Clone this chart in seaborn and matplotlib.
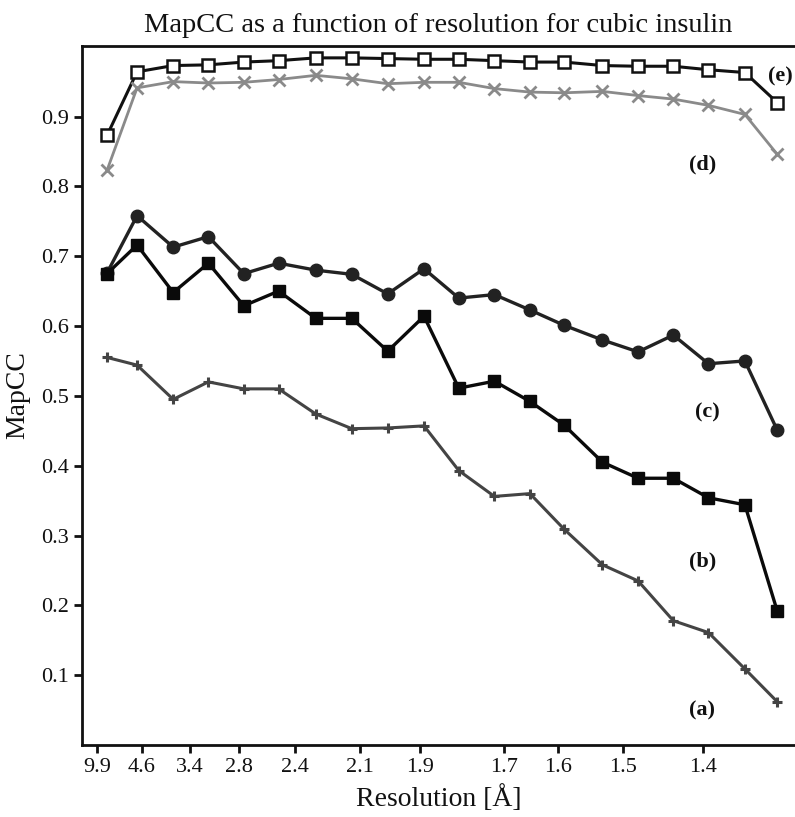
import numpy as np
import pandas as pd
import matplotlib
matplotlib.use("Agg")
import matplotlib.pyplot as plt
import seaborn as sns

# Resolution (Å) of each data point; axis is linear in 1/d^2
resolution = [7.36, 4.81, 3.70, 3.13, 2.76, 2.50, 2.29, 2.13, 2.00, 1.89,
              1.80, 1.72, 1.65, 1.59, 1.53, 1.48, 1.435, 1.394, 1.355, 1.323]

series_a = [0.555, 0.544, 0.495, 0.520, 0.510, 0.510, 0.474, 0.453, 0.454, 0.457,
            0.393, 0.356, 0.360, 0.309, 0.258, 0.235, 0.178, 0.161, 0.109, 0.062]
series_b = [0.675, 0.716, 0.648, 0.690, 0.629, 0.650, 0.611, 0.611, 0.564, 0.614,
            0.511, 0.521, 0.492, 0.458, 0.405, 0.382, 0.382, 0.354, 0.344, 0.192]
series_c = [0.676, 0.758, 0.713, 0.728, 0.675, 0.690, 0.680, 0.674, 0.646, 0.682,
            0.640, 0.645, 0.623, 0.601, 0.580, 0.563, 0.587, 0.546, 0.550, 0.451]
series_d = [0.823, 0.941, 0.950, 0.948, 0.949, 0.953, 0.959, 0.954, 0.947, 0.949,
            0.949, 0.940, 0.935, 0.934, 0.936, 0.930, 0.925, 0.916, 0.903, 0.846]
series_e = [0.873, 0.964, 0.973, 0.974, 0.978, 0.980, 0.984, 0.984, 0.983, 0.982,
            0.982, 0.980, 0.978, 0.978, 0.973, 0.972, 0.972, 0.967, 0.963, 0.920]

xtick_labels = ["9.9", "4.6", "3.4", "2.8", "2.4", "2.1", "1.9", "1.7", "1.6", "1.5", "1.4"]
ytick_values = [0.1, 0.2, 0.3, 0.4, 0.5, 0.6, 0.7, 0.8, 0.9]

sns.set_style("ticks")
plt.rcParams["font.family"] = ["Liberation Serif", "DejaVu Serif"]

fig = plt.figure(figsize=(7.95, 8.17), dpi=100)
ax = fig.add_axes([82 / 795, 72 / 817, (795 - 82) / 795, (745 - 46) / 817])

inv_d2 = [1.0 / d ** 2 for d in resolution]

styles = [
    ("e", series_e, dict(color="#111111", marker="s", markersize=8, markerfacecolor="white",
                          markeredgecolor="#111111", markeredgewidth=1.8, linewidth=2.2)),
    ("d", series_d, dict(color="#8a8a8a", marker="x", markersize=8, markerfacecolor="#8a8a8a",
                          markeredgecolor="#8a8a8a", markeredgewidth=2.0, linewidth=2.0)),
    ("c", series_c, dict(color="#222222", marker="o", markersize=9, markerfacecolor="#222222",
                          markeredgecolor="#222222", markeredgewidth=1.0, linewidth=2.4)),
    ("b", series_b, dict(color="#0a0a0a", marker="s", markersize=8.5, markerfacecolor="#0a0a0a",
                          markeredgecolor="#0a0a0a", markeredgewidth=1.0, linewidth=2.4)),
    ("a", series_a, dict(color="#444444", marker="+", markersize=7, markerfacecolor="#444444",
                          markeredgecolor="#444444", markeredgewidth=2.2, linewidth=2.2)),
]

for name, vals, kw in styles:
    df = pd.DataFrame({"x": inv_d2, "y": vals})
    sns.lineplot(data=df, x="x", y="y", ax=ax, sort=False, legend=False, **kw)

# curve labels
label_pos = {"e": (0.5737, 0.957), "d": (0.5102, 0.831), "c": (0.5135, 0.476),
             "b": (0.5094, 0.263), "a": (0.5094, 0.050)}
for name, (lx, ly) in label_pos.items():
    ax.text(lx, ly, f"({name})", fontsize=16, fontweight="bold", ha="center", va="center",
            color="#111111")

ax.set_xlim(-0.0022, 0.586)
ax.set_ylim(0.0, 1.001)
ax.set_xticks([1.0 / float(t) ** 2 for t in xtick_labels])
ax.set_xticklabels(xtick_labels)
ax.set_yticks(ytick_values)
ax.set_yticklabels([f"{v:.1f}" for v in ytick_values])
ax.tick_params(axis="both", labelsize=16, length=6, width=2, colors="#111111", direction="out")

for side in ["left", "bottom", "top"]:
    ax.spines[side].set_linewidth(2)
    ax.spines[side].set_color("#111111")
ax.spines["right"].set_visible(False)

ax.set_xlabel("Resolution [Å]", fontsize=20, color="#111111", labelpad=6)
ax.set_ylabel("MapCC", fontsize=20, color="#111111", labelpad=8)
ax.set_title("MapCC as a function of resolution for cubic insulin", fontsize=20.5,
             color="#111111", pad=10)

fig.savefig("out.png", dpi=100)
